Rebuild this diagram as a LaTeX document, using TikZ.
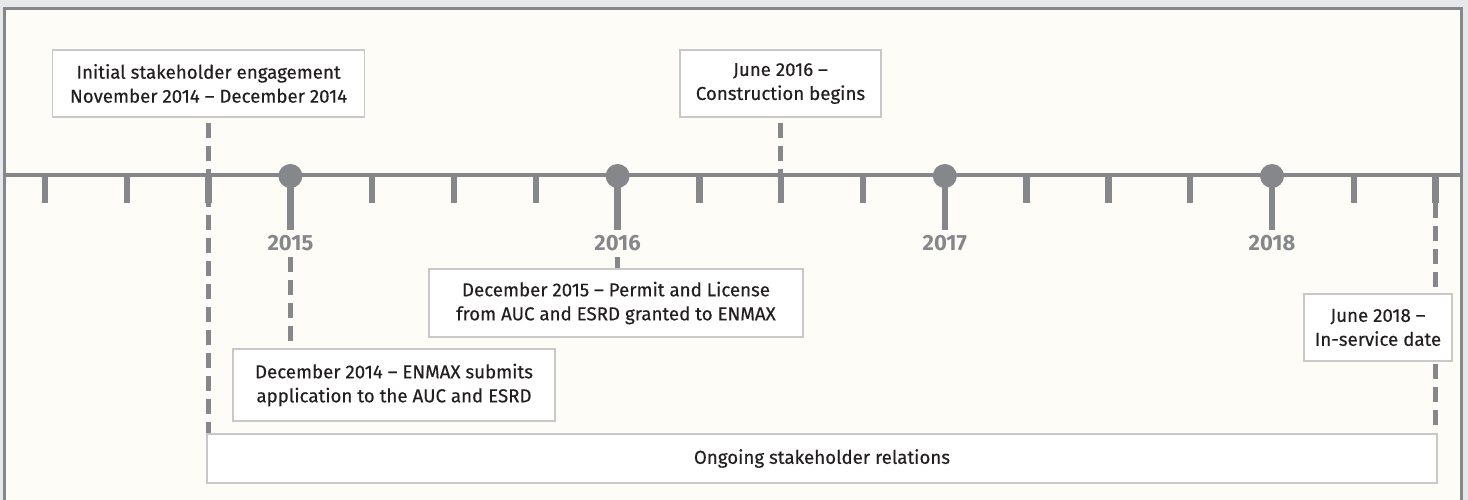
\documentclass[tikz,border=0pt]{standalone}
\usepackage{fontspec}
\setmainfont{Fira Sans}
\newfontfamily\boxfont{Fira Sans}[FakeBold=0.35,Ligatures=TeX]
\definecolor{outerbg}{HTML}{E7E8EA}
\definecolor{innerbg}{HTML}{FDFCF7}
\definecolor{linegray}{HTML}{86878A}
\definecolor{boxborder}{HTML}{C8C8C8}
\definecolor{txt}{HTML}{231F20}
\begin{document}
\begin{tikzpicture}[x=1pt,y=-1pt,
  evbox/.style={draw=boxborder, line width=1.2pt, fill=white, inner sep=0pt, align=center, text=txt, font=\boxfont\fontsize{18.7}{24}\selectfont},
  yearlbl/.style={text=linegray, font=\bfseries\fontsize{22}{22}\selectfont, inner sep=0pt},
  tickline/.style={draw=linegray, line width=6.5pt},
  stemline/.style={draw=linegray, line width=6.5pt},
  axisline/.style={draw=linegray, line width=4.3pt},
  dashline/.style={draw=linegray, line width=5pt, dash pattern=on 15pt off 8pt},
  yeardot/.style={circle, fill=linegray, minimum size=24pt, inner sep=0pt}]
\useasboundingbox (0,0) rectangle (1468,500);
\fill[outerbg] (0,0) rectangle (1468,500);
\draw[linegray, line width=3pt, fill=innerbg] (4.5,9) rectangle (1461.5,512);

% axis
\coordinate (tl) at (5,175);
\coordinate (tr) at (1460,175);

% event boxes (positions)
\node[evbox, minimum width=312pt, minimum height=67pt] (b1) at (208.6,83.5) {Initial stakeholder engagement\\November 2014 – December 2014};
\node[evbox, minimum width=201pt, minimum height=67pt] (b2) at (780.5,83.5) {June 2016 –\\Construction begins};
\node[evbox, minimum width=1230pt, minimum height=49pt] (b6) at (822,458.5) {Ongoing stakeholder relations};

% year labels
\node[yearlbl] (y15) at (290.4,243) {2015};
\node[yearlbl] (y16) at (617.6,243) {2016};
\node[yearlbl] (y17) at (944.8,243) {2017};
\node[yearlbl] (y18) at (1272.0,243) {2018};

\node[evbox, minimum width=374pt, minimum height=68pt] (b3) at (616,303) {December 2015 – Permit and License\\from AUC and ESRD granted to ENMAX};
\node[evbox, minimum width=322pt, minimum height=72pt] (b4) at (394,385) {December 2014 – ENMAX submits\\application to the AUC and ESRD};

% ticks
\foreach \k in {0,1,2,4,5,6,8,9,10,12,13,14,16,17}{
  \pgfmathsetmacro\tx{45+81.8*\k}
  \draw[tickline] (\tx,175) -- (\tx,203);
}
\coordinate (t17) at (1435.6,203);

% dashed connectors
\draw[dashline] ([yshift=-5pt]b1.south) -- (b1.south |- b6.north);
\draw[dashline] ([yshift=-5pt]b2.south) -- (b2.south |- tl);
\draw[dashline] ([yshift=-6pt]y15.south) -- (y15.south |- b4.north);
\draw[dashline] ([yshift=-6pt]y16.south) -- (y16.south |- b3.north);
\draw[dashline] (t17) -- (t17 |- b6.north);

% axis line on top
\draw[axisline] (tl) -- (tr);

% year dots and stems
\foreach \n/\xx in {15/290.4,16/617.6,17/944.8,18/1272.0}{
  \node[yeardot] (c\n) at (\xx,176) {};
  \draw[stemline] (c\n.center) -- ++(0,54);
}

% redraw boxes above dashes
\node[evbox, minimum width=312pt, minimum height=67pt] at (b1) {Initial stakeholder engagement\\November 2014 – December 2014};
\node[evbox, minimum width=148pt, minimum height=67pt] (b5) at (1378,327.5) {June 2018 –\\In-service date};
\node[evbox, minimum width=1230pt, minimum height=49pt] at (b6) {Ongoing stakeholder relations};
\node[evbox, minimum width=374pt, minimum height=68pt] at (b3) {December 2015 – Permit and License\\from AUC and ESRD granted to ENMAX};
\node[evbox, minimum width=322pt, minimum height=72pt] at (b4) {December 2014 – ENMAX submits\\application to the AUC and ESRD};
\end{tikzpicture}
\end{document}
